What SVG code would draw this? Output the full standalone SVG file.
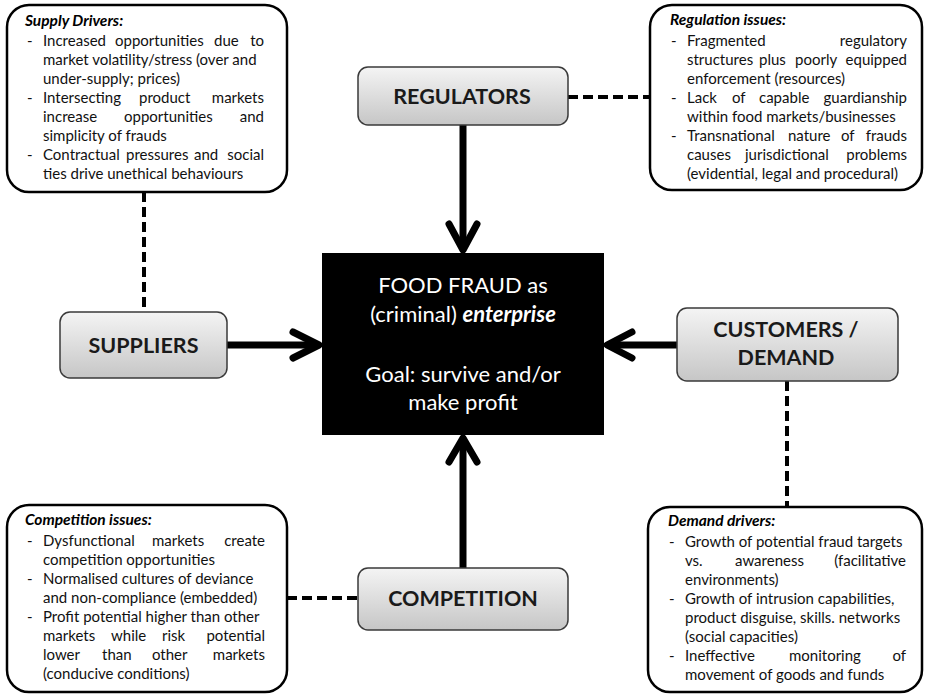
<svg xmlns="http://www.w3.org/2000/svg" width="927" height="694" viewBox="0 0 927 694">
<defs>
<linearGradient id="g" x1="0" y1="0" x2="0" y2="1">
<stop offset="0" stop-color="#f4f4f4"/>
<stop offset="1" stop-color="#c6c6c6"/>
</linearGradient>
<style>
.tb{fill:#fff;stroke:#000;stroke-width:2.5}
.gb{fill:url(#g);stroke:#3a3a3a;stroke-width:1.5}
.t{font-family:Lato,"Liberation Sans",sans-serif;font-size:15px;fill:#111}
.e{text-anchor:end}
.h{font-family:Lato,"Liberation Sans",sans-serif;font-size:15.5px;font-weight:bold;font-style:italic;fill:#000}
.lb{font-family:Lato,"Liberation Sans",sans-serif;font-size:21.5px;font-weight:bold;fill:#1a1a1a;text-anchor:middle}
.c{font-family:Lato,"Liberation Sans",sans-serif;font-size:22px;fill:#fff;text-anchor:middle}
.ar{fill:none;stroke:#000;stroke-width:7;stroke-linecap:round;stroke-linejoin:round}
.ln{stroke:#000;stroke-width:7}
.ds{stroke:#000;stroke-width:4;stroke-dasharray:10 5;fill:none}
</style>
</defs>
<rect width="927" height="694" fill="#fff"/>

<g id="connectors">
<line class="ds" x1="144" y1="192" x2="144" y2="312"/>
<line class="ds" x1="568" y1="97" x2="650" y2="97"/>
<line class="ds" x1="287" y1="598" x2="358" y2="598"/>
<line class="ds" x1="787" y1="381" x2="787" y2="507"/>
<line class="ln" x1="227" y1="345" x2="318" y2="345"/>
<polyline class="ar" points="293,332 319,345 293,358"/>
<line class="ln" x1="677" y1="345" x2="608" y2="345"/>
<polyline class="ar" points="632,332 607,345 632,358"/>
<line class="ln" x1="463" y1="125" x2="463" y2="248"/>
<polyline class="ar" points="449,224 463,250 477,224"/>
<line class="ln" x1="463" y1="568" x2="463" y2="440"/>
<polyline class="ar" points="449,462 463,438 477,462"/>
</g>

<g id="center">
<rect x="322" y="253" width="282" height="182" fill="#000"/>
<text class="c" x="463" y="293">FOOD FRAUD as</text>
<text class="c" x="463" y="322">(criminal) <tspan font-weight="bold" font-style="italic">enterprise</tspan></text>
<text class="c" x="463" y="382">Goal: survive and/or</text>
<text class="c" x="463" y="410">make profit</text>
</g>

<g id="suppliers">
<rect class="gb" x="60" y="312" width="167" height="66" rx="10"/>
<text class="lb" x="143.5" y="353">SUPPLIERS</text>
</g>

<g id="regulators">
<rect class="gb" x="358" y="67" width="210" height="58" rx="10"/>
<text class="lb" x="462" y="104">REGULATORS</text>
</g>

<g id="customers">
<rect class="gb" x="677" y="308" width="221" height="73" rx="10"/>
<text class="lb" x="786" y="337">CUSTOMERS /</text>
<text class="lb" x="786" y="365">DEMAND</text>
</g>

<g id="competition">
<rect class="gb" x="358" y="568" width="210" height="62" rx="10"/>
<text class="lb" x="463" y="606">COMPETITION</text>
</g>

<g id="supply-drivers">
<rect class="tb" x="7" y="5" width="280" height="187" rx="22"/>
<text class="h" x="25" y="26">Supply Drivers:</text>
<text class="t" x="27" y="46">-</text>
<text class="t" y="46"><tspan x="43">Increased</tspan> <tspan x="115">opportunities</tspan> <tspan x="214">due</tspan></text>
<text class="t e" x="264" y="46">to</text>
<text class="t" x="43" y="65">market volatility/stress (over and</text>
<text class="t" x="43" y="84">under-supply; prices)</text>
<text class="t" x="27" y="103">-</text>
<text class="t" y="103"><tspan x="43">Intersecting</tspan> <tspan x="139">product</tspan></text>
<text class="t e" x="264" y="103">markets</text>
<text class="t" y="122"><tspan x="43">increase</tspan> <tspan x="124">opportunities</tspan></text>
<text class="t e" x="264" y="122">and</text>
<text class="t" x="43" y="141">simplicity of frauds</text>
<text class="t" x="27" y="160">-</text>
<text class="t" y="160"><tspan x="43">Contractual</tspan> <tspan x="126">pressures</tspan> <tspan x="194">and</tspan></text>
<text class="t e" x="264" y="160">social</text>
<text class="t" x="43" y="179">ties drive unethical behaviours</text>
</g>

<g id="regulation-issues">
<rect class="tb" x="650" y="5" width="272" height="185" rx="22"/>
<text class="h" x="670" y="25">Regulation issues:</text>
<text class="t" x="671" y="46">-</text>
<text class="t" x="687" y="46">Fragmented</text>
<text class="t e" x="907" y="46">regulatory</text>
<text class="t" y="65"><tspan x="687">structures</tspan> <tspan x="759">plus</tspan> <tspan x="795">poorly</tspan></text>
<text class="t e" x="907" y="65">equipped</text>
<text class="t" x="687" y="84">enforcement (resources)</text>
<text class="t" x="671" y="103">-</text>
<text class="t" y="103"><tspan x="687">Lack</tspan> <tspan x="732">of</tspan> <tspan x="759">capable</tspan></text>
<text class="t e" x="907" y="103">guardianship</text>
<text class="t" x="687" y="122">within food markets/businesses</text>
<text class="t" x="671" y="141">-</text>
<text class="t" y="141"><tspan x="687">Transnational</tspan> <tspan x="788">nature</tspan> <tspan x="841">of</tspan></text>
<text class="t e" x="907" y="141">frauds</text>
<text class="t" y="160"><tspan x="687">causes</tspan> <tspan x="745">jurisdictional</tspan></text>
<text class="t e" x="907" y="160">problems</text>
<text class="t" x="687" y="179">(evidential, legal and procedural)</text>
</g>

<g id="competition-issues">
<rect class="tb" x="7" y="505" width="280" height="187" rx="22"/>
<text class="h" x="25" y="525">Competition issues:</text>
<text class="t" x="27" y="546">-</text>
<text class="t" y="546"><tspan x="43">Dysfunctional</tspan> <tspan x="152">markets</tspan></text>
<text class="t e" x="265" y="546">create</text>
<text class="t" x="43" y="565">competition opportunities</text>
<text class="t" x="27" y="584">-</text>
<text class="t" x="43" y="584">Normalised cultures of deviance</text>
<text class="t" x="43" y="603">and non-compliance (embedded)</text>
<text class="t" x="27" y="622">-</text>
<text class="t" x="43" y="622">Profit potential higher than other</text>
<text class="t" y="641"><tspan x="43">markets</tspan> <tspan x="111">while</tspan> <tspan x="162">risk</tspan></text>
<text class="t e" x="265" y="641">potential</text>
<text class="t" y="660"><tspan x="43">lower</tspan> <tspan x="102">than</tspan> <tspan x="152">other</tspan></text>
<text class="t e" x="265" y="660">markets</text>
<text class="t" x="43" y="679">(conducive conditions)</text>
</g>

<g id="demand-drivers">
<rect class="tb" x="648" y="507" width="274" height="185" rx="22"/>
<text class="h" x="668" y="526">Demand drivers:</text>
<text class="t" x="669" y="547">-</text>
<text class="t" x="685" y="547">Growth of potential fraud targets</text>
<text class="t" y="566"><tspan x="685">vs.</tspan> <tspan x="735">awareness</tspan></text>
<text class="t e" x="906" y="566">(facilitative</text>
<text class="t" x="685" y="585">environments)</text>
<text class="t" x="669" y="604">-</text>
<text class="t" x="685" y="604">Growth of intrusion capabilities,</text>
<text class="t" x="685" y="623">product disguise, skills. networks</text>
<text class="t" x="685" y="642">(social capacities)</text>
<text class="t" x="669" y="661">-</text>
<text class="t" y="661"><tspan x="685">Ineffective</tspan> <tspan x="789">monitoring</tspan></text>
<text class="t e" x="906" y="661">of</text>
<text class="t" x="685" y="680">movement of goods and funds</text>
</g>
</svg>
